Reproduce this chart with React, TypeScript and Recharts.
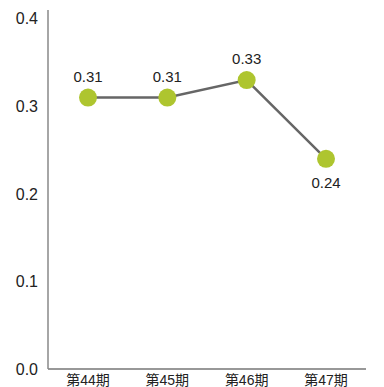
import React from "react";
import { LineChart, Line, XAxis, YAxis, LabelList } from "recharts";

const periods = ["第44期", "第45期", "第46期", "第47期"];
const values = [0.31, 0.31, 0.33, 0.24];
const yTicks = [0, 0.1, 0.2, 0.3, 0.4];

const data = periods.map((p, i) => ({ period: p, value: values[i] }));

const FONT = "'Liberation Sans', Arial, 'Noto Sans CJK JP', sans-serif";

const ValueLabel = (props: any) => {
  const { x, y, value, index } = props;
  const below = index === values.length - 1;
  return (
    <text
      x={x}
      y={below ? y + 29 : y - 16}
      textAnchor="middle"
      fontSize={15}
      fontFamily={FONT}
      fill="#222"
    >
      {Number(value).toFixed(2)}
    </text>
  );
};

const PeriodTick = (props: any) => {
  const { x, y, payload } = props;
  return (
    <text
      x={x}
      y={y + 8}
      textAnchor="middle"
      fontSize={14}
      fontFamily={FONT}
      fill="#222"
    >
      {payload.value}
    </text>
  );
};

export default function App() {
  return (
    <div style={{ position: "fixed", left: 0, top: 0, width: 384, height: 387, background: "#fff" }}>
      <LineChart
        width={384}
        height={387}
        data={data}
        margin={{ top: 10, right: 18, bottom: 0, left: 0 }}
      >
        <XAxis
          dataKey="period"
          axisLine={{ stroke: "#333", strokeWidth: 1.2 }}
          tickLine={false}
          height={18}
          padding={{ left: 40, right: 40 }}
          interval={0}
          tick={<PeriodTick />}
        />
        <YAxis
          domain={[0, 0.41]}
          ticks={yTicks}
          axisLine={{ stroke: "#888", strokeWidth: 1.5 }}
          tickLine={false}
          width={48}
          tickFormatter={(v: number) => v.toFixed(1)}
          tick={{ fontSize: 16, fill: "#222", fontFamily: FONT }}
          tickMargin={4}
          interval={0}
        />
        <Line
          dataKey="value"
          stroke="#666"
          strokeWidth={2.5}
          dot={{ r: 9, fill: "#aec52f", stroke: "none" }}
          activeDot={false}
          isAnimationActive={false}
        >
          <LabelList dataKey="value" content={ValueLabel} />
        </Line>
      </LineChart>
    </div>
  );
}
